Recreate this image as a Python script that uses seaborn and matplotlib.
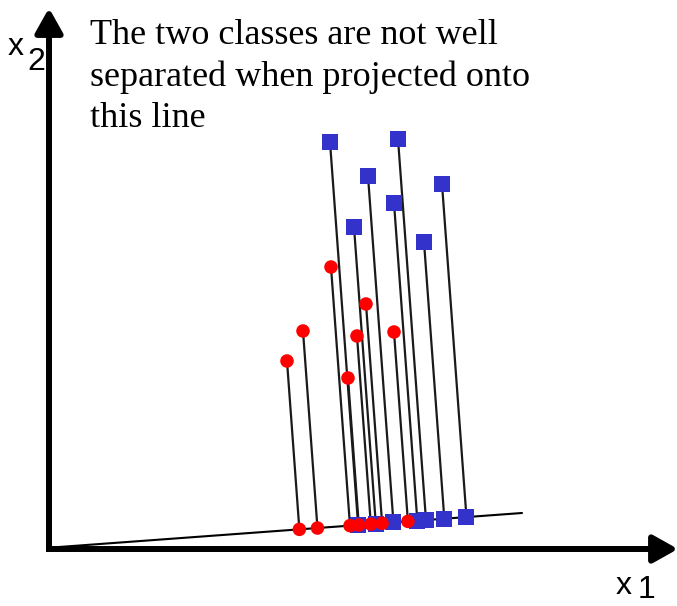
import numpy as np
import pandas as pd
import matplotlib
matplotlib.use("Agg")
import matplotlib.pyplot as plt
import seaborn as sns

# ---------------------------------------------------------------------------
# Data (x1, x2 in picture units, origin at the axis corner)
# ---------------------------------------------------------------------------
blue_x1 = [281, 349, 319, 393, 345, 305, 375]
blue_x2 = [407, 410, 373, 365, 346, 322, 307]
red_x1 = [238, 254, 282, 308, 299, 317, 345]
red_x2 = [188, 218, 282, 213, 171, 245, 217]

# projection line, two points on it
line_x1 = [10, 473]
line_x2 = [2, 36]

note = "The two classes are not well\nseparated when projected onto\nthis line"

BLUE = "#3333CC"
RED = "#FF0000"


def project(x1, x2):
    """Orthogonal projection of points onto the line."""
    a = np.array([line_x1[0], line_x2[0]], dtype=float)
    w = np.array([line_x1[1] - line_x1[0], line_x2[1] - line_x2[0]], dtype=float)
    pts = np.column_stack([x1, x2]).astype(float)
    t = (pts - a) @ w / (w @ w)
    proj = a + np.outer(t, w)
    return proj[:, 0], proj[:, 1]


sns.set_style("white")
fig = plt.figure(figsize=(6.77, 6.06), dpi=100)
ax = fig.add_axes([0, 0, 1, 1])

# projection line
ax.plot(line_x1, line_x2, color="black", lw=1.5, zorder=2)

blue = pd.DataFrame({"x1": blue_x1, "x2": blue_x2})
red = pd.DataFrame({"x1": red_x1, "x2": red_x2})
blue["p1"], blue["p2"] = project(blue_x1, blue_x2)
red["p1"], red["p2"] = project(red_x1, red_x2)

# connectors
for df in (red, blue):
    for _, r in df.iterrows():
        ax.plot([r.x1, r.p1], [r.x2, r.p2], color="#1a1a1a", lw=1.6, zorder=3)

# projected points
sns.scatterplot(data=blue, x="p1", y="p2", marker="s", s=132, color=BLUE,
                edgecolor="none", ax=ax, zorder=4, legend=False)
sns.scatterplot(data=red, x="p1", y="p2", marker="o", s=95, color=RED,
                edgecolor="none", ax=ax, zorder=5, legend=False)

# original points
sns.scatterplot(data=blue, x="x1", y="x2", marker="s", s=132, color=BLUE,
                edgecolor="none", ax=ax, zorder=6, legend=False)
sns.scatterplot(data=red, x="x1", y="x2", marker="o", s=95, color=RED,
                edgecolor="none", ax=ax, zorder=6, legend=False)
ax.set_xlim(-49, 628)
ax.set_ylim(-57, 549)
ax.axis("off")

# axes arrows
arrow = dict(arrowstyle="-|>,head_length=0.75,head_width=0.42", lw=4.3,
             color="black", shrinkA=0, shrinkB=0, mutation_scale=20,
             capstyle="butt")
ax.annotate("", xy=(0, 541), xytext=(0, -3), arrowprops=arrow, zorder=7,
            annotation_clip=False)
ax.annotate("", xy=(629, 0), xytext=(-3, 0), arrowprops=arrow, zorder=7,
            annotation_clip=False)

# axis labels
lab = dict(fontsize=23, family="Liberation Sans", va="baseline", ha="left",
           color="black")
ax.text(-41, 494, "x", fontweight="medium", **lab)
ax.text(-22, 479, "2", **lab)
ax.text(567, -45, "x", fontweight="medium", **lab)
ax.text(589, -49, "1", **lab)

ax.text(41, 530, note, fontsize=26, family="Liberation Serif", va="top",
        ha="left", linespacing=1.33, color="black")

fig.savefig("out.png", dpi=100)
